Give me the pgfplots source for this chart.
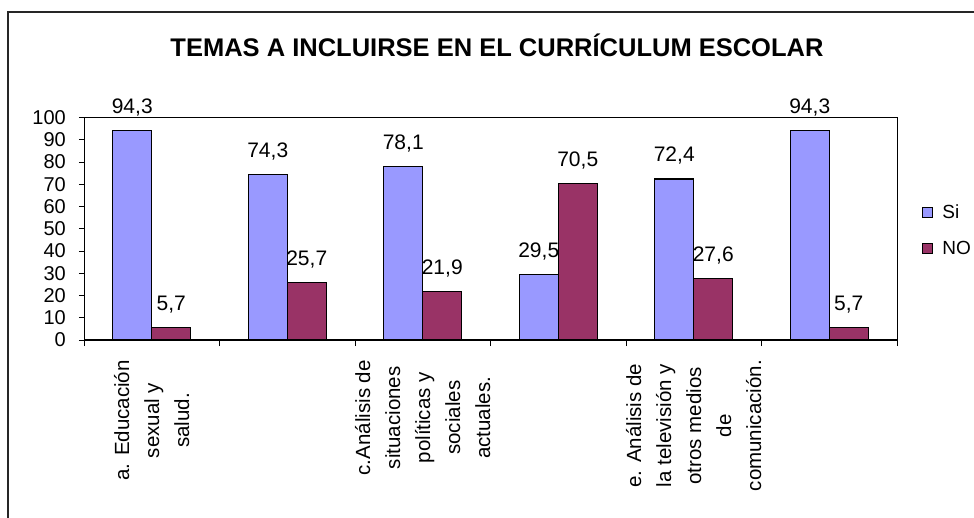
\documentclass[border=0pt]{standalone}
\usepackage{fontspec}
\setmainfont{Liberation Sans}
\usepackage{pgfplots}
\pgfplotsset{compat=1.18}
\definecolor{siC}{HTML}{9999FF}
\definecolor{noC}{HTML}{993366}
\begin{document}
\begin{tikzpicture}
\useasboundingbox (0pt,0pt) rectangle (974pt,517pt);
\begin{scope}
\clip (0pt,0pt) rectangle (974pt,517pt);
\draw[line width=1.2pt, black!85] (8pt,-20pt) -- (8pt,505pt) -- (1000pt,505pt);
\end{scope}
\node[font=\fontsize{25.5}{30}\selectfont\bfseries, anchor=base] at (497pt,460pt) {TEMAS A INCLUIRSE EN EL CURRÍCULUM ESCOLAR};
\begin{axis}[
  at={(84pt,177pt)}, anchor=south west,
  scale only axis, width=813pt, height=222.5pt,
  xmin=-0.5, xmax=5.5, ymin=0, ymax=100,
  ytick={0,10,...,100},
  xtick={0,1,2,3,4,5},
  xticklabels={{a. Educación\\sexual y\\salud.},{},{c.Análisis de\\situaciones\\políticas y\\sociales\\actuales.},{},{e. Análisis de\\la televisión y\\otros medios\\de\\comunicación.},{}},
  minor xtick={-0.5,0.5,1.5,2.5,3.5,4.5,5.5},
  tick align=outside, tick pos=left,
  major tick length=5pt, minor tick length=6pt,
  xtick style={draw=none},
  minor x tick style={draw=black, line width=0.8pt},
  ytick style={draw=black, line width=0.8pt},
  /pgf/number format/assume math mode=true,
  yticklabel style={font=\fontsize{20}{22}\selectfont, inner sep=0pt, xshift=-13pt},
  xticklabel style={font=\fontsize{20.5}{30}\selectfont, rotate=90, anchor=east, align=center, inner sep=0pt},
  xticklabel shift=15pt,
  axis line style={line width=0.8pt},
  ybar, bar width=39pt,
  nodes near coords={\pgfmathprintnumber[fixed, fixed zerofill, precision=1, use comma]{\pgfplotspointmeta}},
  every node near coord/.append style={font=\fontsize{21}{24}\selectfont, anchor=base, yshift=17pt, inner sep=0pt},
  legend image code/.code={\draw[#1, line width=0.8pt] (0pt,-5pt) rectangle (10pt,5pt);},
  legend style={at={(1.03,0.494)}, anchor=west, draw=none, fill=none, font=\fontsize{19}{22}\selectfont, inner sep=0pt, row sep=17pt,
    /tikz/every odd column/.append style={column sep=8pt}},
  legend cell align=left,
]
\addplot[fill=siC, draw=black, line width=1.2pt, bar shift=-19.5pt] coordinates {(0,94.3) (1,74.3) (2,78.1) (3,29.5) (4,72.4) (5,94.3)};
\addplot[fill=noC, draw=black, line width=1.2pt, bar shift=19.5pt] coordinates {(0,5.7) (1,25.7) (2,21.9) (3,70.5) (4,27.6) (5,5.7)};
\legend{Si,NO}
\draw[line width=2pt] (rel axis cs:0,1) -- (rel axis cs:0,0) -- (rel axis cs:1,0);
\end{axis}
\end{tikzpicture}
\end{document}
